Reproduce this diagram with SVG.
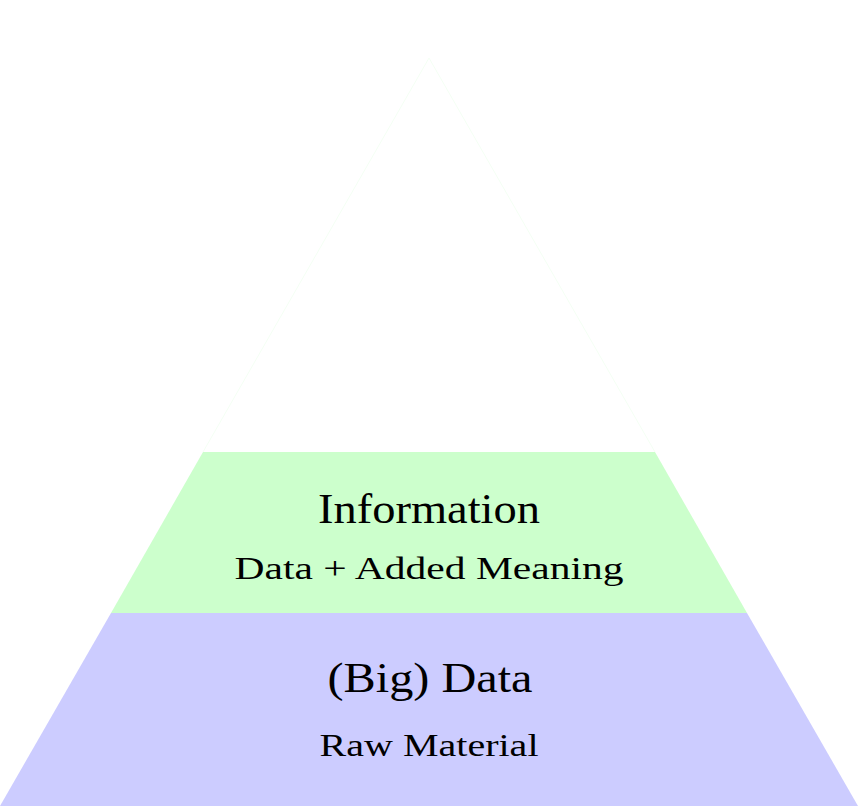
<svg xmlns="http://www.w3.org/2000/svg" width="859" height="806" viewBox="0 0 859 806">
<style>
.t{font-family:"Liberation Serif","DejaVu Serif",serif;fill:#000;text-anchor:middle}
.big{font-size:42px}
.small{font-size:32px}
</style>
<rect width="859" height="806" fill="#fff"/>
<g id="wisdom">
<path d="M203,452 L429,58 L655,452" fill="#fff" stroke="#f4fff4" stroke-width="1"/>
</g>
<g id="information">
<polygon points="203,452 655,452 747,613 111,613" fill="#ccffcc"/>
<text class="t big" x="429" y="523" textLength="222" lengthAdjust="spacingAndGlyphs">Information</text>
<text class="t small" x="429" y="579" textLength="389" lengthAdjust="spacingAndGlyphs">Data + Added Meaning</text>
</g>
<g id="data">
<polygon points="111,613 747,613 858,806 0,806" fill="#ccccff"/>
<text class="t big" x="430" y="692" textLength="205" lengthAdjust="spacingAndGlyphs">(Big) Data</text>
<text class="t small" x="429" y="756" textLength="219" lengthAdjust="spacingAndGlyphs">Raw Material</text>
</g>
<g id="connectors"></g>
</svg>
